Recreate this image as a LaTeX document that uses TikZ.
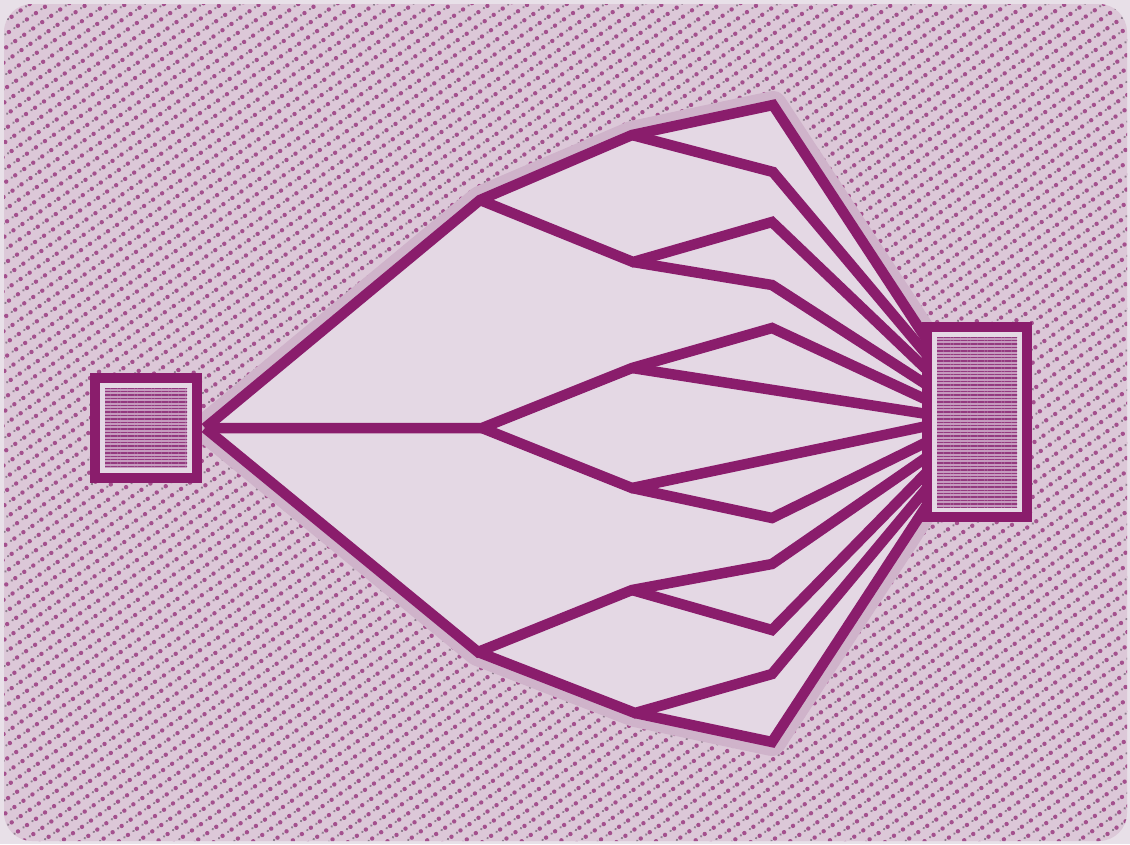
\documentclass[tikz,border=0pt]{standalone}
\usetikzlibrary{patterns.meta}
\definecolor{paper}{HTML}{E8E0E8}
\definecolor{texbase}{HTML}{DCC8D8}
\definecolor{texdot}{HTML}{A4508E}
\definecolor{texdot2}{HTML}{8E7E8E}
\definecolor{halo}{HTML}{CFB3CA}
\definecolor{inside}{HTML}{E4D8E4}
\definecolor{linecol}{HTML}{8A1D6C}
\definecolor{boxtex}{HTML}{C59BBE}
\definecolor{boxline}{HTML}{93397F}
\tikzset{
  branch/.style={draw=linecol, line width=10.5pt, line join=miter, miter limit=10, line cap=butt},
  boxframe/.style={draw=linecol, line width=10pt, fill=inside, inner sep=0pt, outer sep=0pt},
  boxfill/.style={fill=boxtex, inner sep=0pt, outer sep=0pt,
     postaction={pattern={Lines[angle=0,distance=3.4pt,line width=1.4pt]}, pattern color=boxline}},
}
\begin{document}
\begin{tikzpicture}[x=1pt,y=-1pt]
\useasboundingbox (0,0) rectangle (1130,844);
\fill[paper] (0,0) rectangle (1130,844);
% textured field
\fill[texbase, rounded corners=28pt] (4,4) rectangle (1127,841);
\fill[pattern={Dots[radius=2.2pt,distance=11pt,angle=35]}, pattern color=texdot, rounded corners=28pt] (4,4) rectangle (1127,841);
\fill[pattern={Dots[radius=1.3pt,distance=11pt,angle=35,xshift=5.5pt,yshift=4pt]}, pattern color=texdot2, rounded corners=28pt] (4,4) rectangle (1127,841);

% coordinates
\coordinate (root) at (205,428);
\coordinate (a) at (480,200);
\coordinate (b) at (482,428);
\coordinate (c) at (478,652);
\coordinate (a1) at (632,135);
\coordinate (a2) at (633,262);
\coordinate (b1) at (632,368);
\coordinate (b2) at (632,488);
\coordinate (c1) at (632,590);
\coordinate (c2) at (635,713);
\coordinate (a11) at (773,105);
\coordinate (a12) at (773,172);
\coordinate (a21) at (772,222);
\coordinate (a22) at (772,285);
\coordinate (b11) at (772,328);
\coordinate (b22) at (772,518);
\coordinate (c11) at (772,564);
\coordinate (c12) at (772,630);
\coordinate (c21) at (772,674);
\coordinate (c22) at (772,742);
\foreach \i/\y in {1/340,2/355,3/370,4/385,5/400,6/414,7/426,8/442,9/457,10/472,11/488,12/505}
  \coordinate (e\i) at (927,\y);

% halo and light interior
\draw[halo, line width=28pt, line join=round] (root) -- (a) -- (a1) -- (a11) -- (e1) -- (e12) -- (c22) -- (c2) -- (c) -- cycle;
\fill[inside] (root) -- (a) -- (a1) -- (a11) -- (e1) -- (e12) -- (c22) -- (c2) -- (c) -- cycle;

% branches
\draw[branch] (root) -- (a) -- (a1) -- (a11) -- (e1);
\draw[branch] (a1) -- (a12) -- (e2);
\draw[branch] (a) -- (a2) -- (a21) -- (e3);
\draw[branch] (a2) -- (a22) -- (e4);
\draw[branch] (root) -- (b) -- (b1) -- (b11) -- (e5);
\draw[branch] (b1) -- (e6);
\draw[branch] (b) -- (b2) -- (e7);
\draw[branch] (b2) -- (b22) -- (e8);
\draw[branch] (root) -- (c) -- (c1) -- (c11) -- (e9);
\draw[branch] (c1) -- (c12) -- (e10);
\draw[branch] (c) -- (c2) -- (c21) -- (e11);
\draw[branch] (c2) -- (c22) -- (e12);

% boxes
\node[boxframe, minimum width=102pt, minimum height=100pt] (L) at (146,428) {};
\node[boxfill, minimum width=82pt, minimum height=80pt] (Lin) at (146,428) {};
\node[boxframe, minimum width=100pt, minimum height=190pt] (R) at (977,422) {};
\node[boxfill, minimum width=80pt, minimum height=170pt] (Rin) at (977,422) {};
\end{tikzpicture}
\end{document}
